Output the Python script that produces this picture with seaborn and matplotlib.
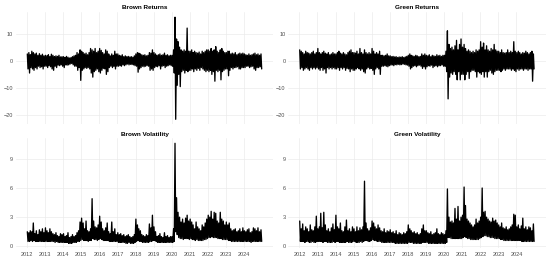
import matplotlib
matplotlib.use("Agg")
import matplotlib.pyplot as plt
import matplotlib.dates as mdates
import pandas as pd
import seaborn as sns

# monthly extremes, Jan 2012 .. Dec 2024 (12 values per row = one year)
brown_ret_hi = [
    2.5, 3.0, 2.2, 3.5, 3.0, 2.5, 2.8, 2.0, 2.6, 2.0, 2.4, 1.8,
    2.0, 1.8, 2.2, 1.6, 2.4, 2.0, 1.5, 1.8, 1.6, 2.0, 1.4, 1.5,
    1.5, 1.2, 1.6, 1.3, 1.0, 1.2, 1.5, 1.8, 2.0, 3.0, 2.5, 4.0,
    3.5, 3.0, 2.5, 2.8, 2.2, 3.0, 4.5, 4.0, 3.5, 4.5, 3.0, 3.5,
    4.5, 3.8, 3.0, 2.5, 4.0, 3.5, 2.5, 1.8, 2.5, 2.0, 3.5, 2.5,
    2.5, 2.0, 1.8, 2.2, 1.5, 1.8, 1.5, 1.6, 1.4, 1.5, 1.3, 1.8,
    2.5, 3.0, 2.8, 2.5, 2.2, 2.0, 2.2, 1.8, 2.0, 3.0, 2.8, 4.0,
    3.0, 2.5, 2.0, 2.2, 2.5, 2.0, 2.2, 2.8, 2.0, 2.2, 1.8, 2.0,
    2.0, 4.0, 16.0, 8.0, 7.0, 5.0, 4.0, 3.5, 4.0, 3.5, 12.0, 3.5,
    3.5, 4.0, 3.0, 3.5, 3.0, 2.8, 3.2, 2.5, 3.5, 3.0, 3.5, 4.0,
    4.0, 3.5, 4.5, 3.5, 4.0, 5.2, 3.5, 3.0, 4.0, 4.5, 3.5, 3.0,
    3.0, 3.5, 3.5, 2.5, 2.8, 2.5, 3.0, 2.2, 2.5, 2.8, 2.5, 2.8,
    2.5, 2.2, 2.0, 2.5, 2.0, 2.2, 2.5, 2.8, 2.2, 2.5, 2.0, 2.5,
]
brown_ret_lo = [
    -3.0, -4.5, -2.5, -3.0, -3.5, -2.5, -3.0, -2.0, -2.5, -2.2, -3.0, -2.0,
    -2.0, -2.5, -1.8, -2.2, -3.0, -3.5, -2.0, -2.5, -1.6, -1.8, -1.5, -2.0,
    -2.5, -1.5, -1.6, -1.5, -1.2, -1.0, -1.5, -2.0, -2.0, -3.5, -2.5, -7.2,
    -3.5, -3.0, -2.5, -2.8, -2.5, -3.0, -4.5, -6.0, -4.0, -3.5, -3.0, -4.0,
    -4.5, -3.5, -2.8, -3.0, -5.0, -4.0, -2.5, -2.0, -2.5, -2.0, -3.0, -2.0,
    -2.0, -1.8, -2.0, -1.5, -1.8, -1.5, -1.2, -1.5, -1.3, -1.4, -1.5, -1.8,
    -2.0, -4.2, -3.0, -2.5, -2.0, -2.2, -2.0, -1.8, -2.0, -3.5, -3.0, -3.5,
    -2.5, -2.0, -2.2, -1.8, -3.0, -2.0, -1.8, -2.5, -2.0, -1.8, -1.5, -1.8,
    -2.0, -4.5, -21.5, -9.0, -5.0, -9.5, -4.0, -3.5, -4.5, -3.5, -4.0, -3.5,
    -3.5, -3.0, -4.0, -3.0, -3.5, -2.8, -3.5, -2.5, -3.0, -3.5, -4.0, -3.5,
    -4.0, -3.5, -5.0, -4.0, -7.5, -3.5, -4.0, -3.5, -7.0, -4.0, -3.5, -3.0,
    -3.0, -5.5, -3.5, -2.5, -3.0, -2.5, -2.5, -2.2, -3.0, -3.0, -2.5, -2.5,
    -2.5, -2.0, -2.0, -2.5, -2.2, -2.0, -3.0, -3.5, -2.5, -2.5, -2.2, -3.0,
]
green_ret_hi = [
    4.0, 3.5, 3.0, 2.5, 3.5, 3.0, 2.8, 2.5, 3.0, 3.5, 2.5, 3.0,
    4.5, 3.0, 2.5, 3.0, 3.5, 2.8, 2.5, 3.0, 2.2, 2.5, 3.0, 2.5,
    2.5, 3.0, 3.5, 2.8, 2.5, 3.0, 2.5, 2.2, 3.0, 3.5, 4.0, 3.0,
    3.0, 2.8, 3.5, 2.5, 4.5, 3.0, 2.5, 4.0, 3.0, 2.5, 3.0, 2.5,
    4.5, 3.5, 2.5, 3.0, 2.5, 3.5, 2.0, 2.0, 1.8, 2.0, 2.5, 1.8,
    1.8, 1.5, 1.6, 1.4, 1.5, 1.2, 1.4, 1.3, 1.5, 1.2, 1.4, 1.6,
    2.0, 2.5, 2.0, 1.8, 1.6, 2.0, 1.8, 1.5, 1.6, 2.5, 2.0, 2.5,
    2.0, 1.8, 2.2, 1.5, 2.0, 1.8, 1.6, 2.2, 1.8, 2.0, 1.6, 2.0,
    2.0, 3.5, 11.0, 6.0, 4.5, 5.0, 4.0, 5.5, 7.5, 4.0, 6.0, 8.0,
    5.0, 6.0, 4.5, 3.5, 4.0, 3.5, 3.0, 3.5, 3.0, 4.0, 3.5, 4.0,
    7.0, 5.0, 6.5, 4.0, 5.5, 4.0, 3.5, 4.5, 4.0, 6.0, 4.0, 3.5,
    3.5, 3.0, 4.0, 3.0, 2.8, 3.0, 4.0, 3.0, 3.5, 3.0, 7.0, 3.5,
    3.0, 3.5, 3.0, 2.5, 3.0, 2.8, 3.5, 3.0, 2.5, 3.0, 3.5, 2.5,
]
green_ret_lo = [
    -3.0, -2.5, -3.5, -3.0, -2.5, -3.0, -3.5, -2.5, -3.0, -2.5, -3.0, -2.5,
    -3.0, -3.5, -2.5, -3.5, -3.0, -4.5, -2.5, -3.0, -2.5, -3.0, -2.5, -3.0,
    -3.0, -2.5, -3.5, -2.5, -3.0, -2.5, -3.5, -2.8, -3.0, -4.0, -3.0, -3.5,
    -3.5, -3.0, -2.5, -3.0, -3.5, -3.0, -4.0, -4.5, -3.0, -2.5, -3.0, -2.8,
    -3.5, -5.0, -3.0, -2.5, -3.0, -5.0, -2.0, -2.0, -1.8, -2.0, -2.2, -1.8,
    -1.6, -1.5, -1.8, -1.4, -1.5, -1.3, -1.5, -1.4, -1.2, -1.3, -1.5, -1.6,
    -2.0, -3.0, -2.5, -2.0, -1.8, -2.2, -1.8, -1.6, -2.0, -2.8, -2.2, -3.0,
    -2.2, -1.8, -2.0, -1.6, -2.5, -2.0, -1.8, -2.2, -1.8, -1.8, -1.5, -2.0,
    -2.0, -4.0, -14.0, -6.0, -4.5, -5.0, -4.0, -5.0, -7.0, -4.0, -7.0, -5.0,
    -5.0, -7.0, -5.0, -4.0, -6.5, -4.0, -3.5, -3.5, -4.0, -6.0, -4.0, -4.5,
    -5.0, -4.0, -6.0, -4.0, -6.0, -4.0, -3.5, -4.5, -5.0, -4.0, -3.5, -3.5,
    -3.5, -4.0, -3.5, -3.0, -3.5, -3.0, -3.0, -3.0, -3.5, -3.0, -3.5, -4.0,
    -3.0, -3.5, -3.0, -3.0, -3.5, -3.0, -3.0, -3.5, -3.0, -3.0, -7.5, -3.0,
]
brown_vol_hi = [
    1.5, 1.4, 1.6, 1.5, 2.4, 1.3, 1.6, 1.2, 1.7, 1.5, 1.8, 1.4,
    1.9, 1.6, 1.4, 1.8, 1.5, 1.3, 1.2, 1.4, 1.1, 1.0, 1.3, 1.2,
    1.3, 1.0, 1.1, 1.4, 0.9, 1.0, 1.2, 1.0, 1.1, 1.4, 1.6, 2.5,
    2.9, 2.4, 1.8, 2.6, 1.6, 1.5, 1.8, 4.9, 2.6, 2.0, 1.9, 2.2,
    3.1, 2.5, 1.8, 1.6, 1.9, 2.4, 1.5, 1.3, 2.5, 1.5, 1.8, 1.2,
    1.4, 1.2, 1.3, 1.1, 1.2, 1.0, 1.1, 1.2, 1.0, 0.9, 1.0, 1.2,
    2.8, 2.2, 1.8, 1.6, 1.2, 1.1, 1.0, 1.2, 1.1, 2.3, 1.9, 3.2,
    2.0, 1.5, 1.0, 1.1, 1.3, 1.0, 0.9, 1.4, 1.0, 1.1, 0.9, 1.0,
    1.0, 1.8, 10.6, 5.0, 3.5, 3.0, 2.5, 2.8, 2.4, 2.9, 3.2, 2.6,
    2.8, 2.5, 2.2, 1.8, 2.5, 2.0, 1.8, 1.6, 2.2, 2.0, 2.4, 2.8,
    3.2, 3.0, 3.6, 2.8, 3.5, 3.4, 2.6, 2.4, 3.5, 2.8, 2.6, 2.2,
    2.5, 2.2, 2.4, 1.8, 1.6, 1.7, 1.8, 1.5, 1.6, 1.8, 1.5, 1.9,
    1.6, 1.5, 1.7, 1.8, 1.4, 1.5, 1.9, 1.8, 1.6, 1.9, 1.5, 1.7,
]
brown_vol_lo = [
    0.5, 0.5, 0.6, 0.5, 0.6, 0.5, 0.5, 0.5, 0.5, 0.5, 0.5, 0.5,
    0.5, 0.5, 0.5, 0.5, 0.5, 0.5, 0.4, 0.5, 0.4, 0.4, 0.4, 0.4,
    0.4, 0.4, 0.4, 0.3, 0.3, 0.3, 0.4, 0.4, 0.4, 0.5, 0.5, 0.6,
    0.7, 0.6, 0.6, 0.6, 0.5, 0.6, 0.6, 0.8, 0.7, 0.7, 0.6, 0.7,
    0.8, 0.7, 0.6, 0.6, 0.6, 0.6, 0.5, 0.5, 0.5, 0.5, 0.5, 0.5,
    0.4, 0.4, 0.4, 0.4, 0.4, 0.3, 0.3, 0.4, 0.3, 0.3, 0.3, 0.4,
    0.5, 0.6, 0.5, 0.5, 0.4, 0.4, 0.4, 0.4, 0.4, 0.5, 0.5, 0.6,
    0.6, 0.5, 0.4, 0.4, 0.4, 0.4, 0.4, 0.4, 0.4, 0.4, 0.4, 0.4,
    0.4, 0.5, 1.5, 1.2, 0.9, 0.8, 0.8, 0.7, 0.8, 0.8, 0.8, 0.7,
    0.8, 0.7, 0.7, 0.6, 0.7, 0.6, 0.6, 0.6, 0.6, 0.7, 0.7, 0.8,
    0.9, 0.9, 1.0, 0.9, 0.9, 0.9, 0.8, 0.8, 0.8, 0.7, 0.7, 0.7,
    0.7, 0.6, 0.6, 0.5, 0.5, 0.5, 0.5, 0.5, 0.5, 0.5, 0.5, 0.5,
    0.5, 0.5, 0.5, 0.5, 0.4, 0.5, 0.5, 0.5, 0.5, 0.5, 0.5, 0.5,
]
green_vol_hi = [
    2.6, 1.8, 2.3, 1.6, 2.0, 1.8, 1.5, 2.2, 1.7, 1.6, 2.0, 3.1,
    1.8, 2.0, 3.4, 1.9, 3.5, 2.2, 1.6, 1.8, 1.5, 1.9, 2.3, 1.7,
    3.2, 2.0, 1.8, 2.4, 1.6, 1.5, 2.0, 2.7, 1.6, 1.8, 1.5, 2.0,
    1.8, 1.5, 2.0, 1.6, 1.9, 1.7, 2.0, 6.7, 2.4, 1.8, 1.6, 1.9,
    2.6, 2.4, 2.0, 1.8, 2.2, 1.9, 1.6, 1.5, 1.8, 1.4, 1.6, 1.5,
    1.7, 1.4, 1.5, 1.3, 1.6, 1.2, 1.4, 1.3, 1.2, 1.4, 1.3, 1.5,
    2.2, 1.8, 1.6, 1.4, 1.5, 1.3, 1.4, 1.2, 1.3, 1.8, 2.2, 1.6,
    1.6, 1.4, 1.3, 1.5, 1.2, 1.3, 1.4, 1.8, 1.3, 1.2, 1.4, 1.3,
    1.2, 1.6, 5.9, 3.0, 2.5, 2.6, 2.4, 3.9, 2.8, 4.1, 2.6, 3.0,
    3.2, 6.1, 4.2, 2.8, 2.6, 2.4, 2.2, 2.0, 2.2, 2.8, 2.4, 2.6,
    3.0, 6.0, 3.5, 3.6, 3.0, 2.8, 2.6, 2.5, 2.9, 2.6, 2.7, 2.4,
    2.2, 2.0, 2.4, 1.9, 1.8, 2.0, 1.7, 1.8, 2.0, 2.2, 3.3, 3.2,
    2.0, 2.2, 1.8, 2.1, 2.9, 1.8, 2.0, 1.7, 2.0, 1.9, 1.6, 2.3,
]
green_vol_lo = [
    0.5, 0.5, 0.5, 0.4, 0.5, 0.5, 0.4, 0.4, 0.5, 0.4, 0.4, 0.5,
    0.5, 0.5, 0.5, 0.4, 0.5, 0.5, 0.4, 0.4, 0.4, 0.4, 0.5, 0.4,
    0.5, 0.5, 0.4, 0.4, 0.4, 0.4, 0.4, 0.5, 0.4, 0.4, 0.4, 0.5,
    0.5, 0.4, 0.4, 0.4, 0.5, 0.4, 0.5, 0.6, 0.6, 0.5, 0.5, 0.6,
    0.7, 0.6, 0.6, 0.5, 0.5, 0.5, 0.4, 0.4, 0.4, 0.4, 0.4, 0.4,
    0.4, 0.4, 0.4, 0.3, 0.3, 0.3, 0.3, 0.3, 0.3, 0.3, 0.3, 0.3,
    0.4, 0.4, 0.4, 0.3, 0.3, 0.3, 0.3, 0.3, 0.3, 0.4, 0.4, 0.4,
    0.4, 0.3, 0.3, 0.3, 0.3, 0.3, 0.3, 0.3, 0.3, 0.3, 0.3, 0.3,
    0.3, 0.4, 0.9, 0.9, 0.8, 0.8, 0.8, 0.8, 0.8, 0.8, 0.8, 0.8,
    0.9, 1.0, 0.9, 0.8, 0.8, 0.7, 0.7, 0.7, 0.7, 0.7, 0.7, 0.8,
    0.9, 1.0, 1.1, 1.1, 1.0, 1.0, 0.9, 0.9, 0.9, 0.8, 0.8, 0.8,
    0.8, 0.7, 0.7, 0.6, 0.6, 0.6, 0.6, 0.6, 0.6, 0.6, 0.6, 0.6,
    0.6, 0.6, 0.6, 0.5, 0.5, 0.5, 0.5, 0.5, 0.5, 0.5, 0.5, 0.5,
]

titles = ["Brown Returns", "Green Returns", "Brown Volatility", "Green Volatility"]
tick_years = ["2012", "2013", "2014", "2015", "2016", "2017", "2018",
              "2019", "2020", "2021", "2022", "2023", "2024"]
ret_ticks = [-20, -10, 0, 10]
vol_ticks = [0, 3, 6, 9]


def monthly_path(hi, lo):
    # each month drawn as its high then its low -> dense zigzag like the daily series
    rows = []
    for i, (h, l) in enumerate(zip(hi, lo)):
        yr, mo = 2012 + i // 12, i % 12 + 1
        rows.append((pd.Timestamp(yr, mo, 8), h))
        rows.append((pd.Timestamp(yr, mo, 22), l))
    return pd.DataFrame(rows, columns=["date", "value"])


sns.set_theme(style="whitegrid")
plt.rcParams["font.family"] = ["Liberation Sans", "DejaVu Sans"]

fig = plt.figure(figsize=(5.5, 2.62), dpi=100)
W, H = 550, 262
boxes = [  # left, top, width, height in pixels
    (15.6, 12.1, 257.8, 112.3),
    (288.0, 12.1, 257.8, 112.3),
    (15.6, 138.3, 257.8, 110.1),
    (288.0, 138.3, 257.8, 110.1),
]
axes = [fig.add_axes([l / W, 1 - (t + h) / H, w / W, h / H]) for l, t, w, h in boxes]
axes[1].sharey(axes[0])
axes[3].sharey(axes[2])
for ax in axes[1:]:
    ax.sharex(axes[0])

series = [(brown_ret_hi, brown_ret_lo), (green_ret_hi, green_ret_lo),
          (brown_vol_hi, brown_vol_lo), (green_vol_hi, green_vol_lo)]

year_ticks = [pd.Timestamp(int(y), 1, 1) for y in tick_years]

for i, (ax, (hi, lo), title) in enumerate(zip(axes, series, titles)):
    df = monthly_path(hi, lo)
    sns.lineplot(data=df, x="date", y="value", ax=ax, color="black",
                 linewidth=0.95, estimator=None, sort=False)
    ax.set_facecolor("white")
    ax.margins(x=0.05, y=0.05)
    for s in ax.spines.values():
        s.set_visible(False)
    ax.grid(True, color="#ebebeb", linewidth=0.5)
    ax.set_axisbelow(True)
    ax.set_xlabel("")
    ax.set_ylabel("")
    ax.set_title(title, fontsize=4.6, fontweight="bold", pad=2.0, color="black")
    ax.set_xticks(year_ticks)
    ax.xaxis.set_major_formatter(mdates.DateFormatter("%Y"))
    ax.set_yticks(ret_ticks if i < 2 else vol_ticks)
    ax.tick_params(axis="both", length=0, labelsize=4.0, colors="#4d4d4d", pad=1.8)
    ax.tick_params(axis="x", pad=2.4)
    if i < 2:
        ax.tick_params(axis="x", labelbottom=False)

fig.savefig("out.png", dpi=100, facecolor="white")
